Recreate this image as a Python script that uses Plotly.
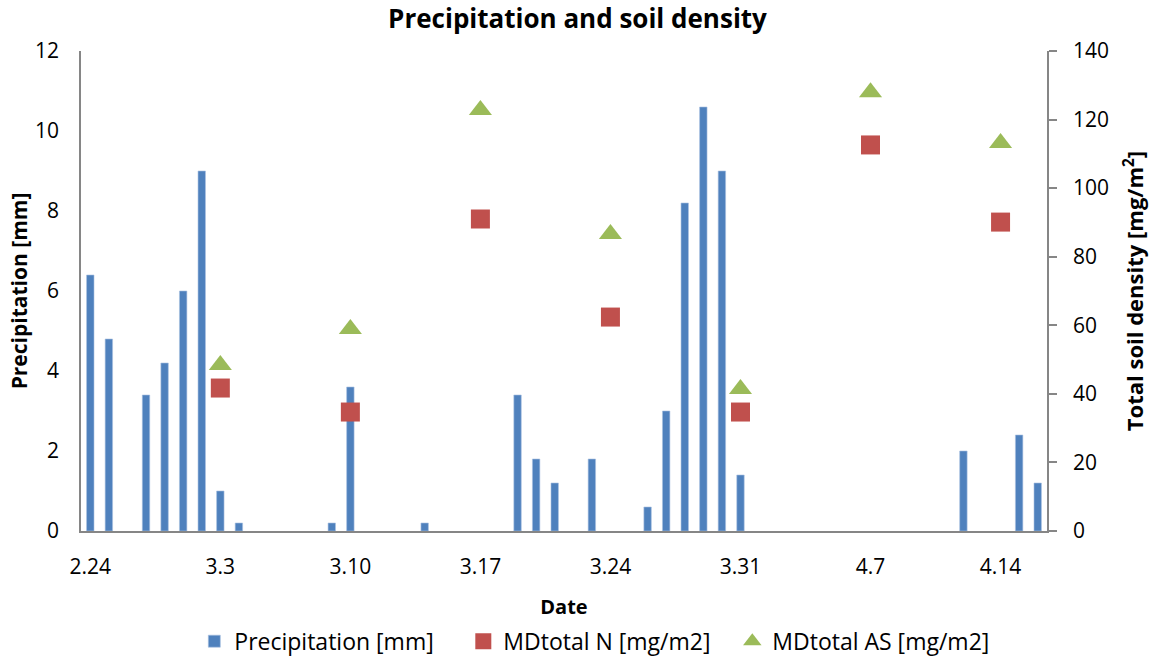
import pandas as pd
import plotly.graph_objects as go

# Daily precipitation (mm)
precip_dates = ["2015-02-24", "2015-02-25", "2015-02-27", "2015-02-28", "2015-03-01",
                "2015-03-02", "2015-03-03", "2015-03-04", "2015-03-09", "2015-03-10",
                "2015-03-14", "2015-03-19", "2015-03-20", "2015-03-21", "2015-03-23",
                "2015-03-26", "2015-03-27", "2015-03-28", "2015-03-29", "2015-03-30",
                "2015-03-31", "2015-04-12", "2015-04-15", "2015-04-16"]
precip_mm = [6.4, 4.8, 3.4, 4.2, 6.0, 9.0, 1.0, 0.2, 0.2, 3.6,
             0.2, 3.4, 1.8, 1.2, 1.8, 0.6, 3.0, 8.2, 10.6, 9.0,
             1.4, 2.0, 2.4, 1.2]

# Weekly soil deposition samples (mg/m2)
sample_dates = ["2015-03-03", "2015-03-10", "2015-03-17", "2015-03-24",
                "2015-03-31", "2015-04-07", "2015-04-14"]
md_total_n = [41.7, 34.7, 91.0, 62.4, 34.7, 112.6, 90.1]
md_total_as = [48.4, 58.9, 122.8, 86.6, 41.4, 128.0, 113.2]

tick_dates = pd.date_range("2015-02-24", "2015-04-14", freq="7D")
tick_labels = [f"{d.month}.{d.day}" for d in tick_dates]

FONT = "Open Sans"
AXIS_GREY = "#868686"
DAY_MS = 86400000

fig = go.Figure()
fig.add_trace(go.Bar(
    x=pd.to_datetime(precip_dates), y=precip_mm, name="Precipitation [mm]",
    width=0.4 * DAY_MS, marker=dict(color="#4F81BD", line=dict(width=0.6, color="#A9C1E0")),
))
fig.add_trace(go.Scatter(
    x=pd.to_datetime(sample_dates), y=md_total_n, name="MDtotal N [mg/m2]",
    mode="markers", yaxis="y2",
    marker=dict(symbol="square", size=19, color="#C0504D"),
))
fig.add_trace(go.Scatter(
    x=pd.to_datetime(sample_dates), y=md_total_as, name="MDtotal AS [mg/m2]",
    mode="markers", yaxis="y2",
    marker=dict(symbol="triangle-up", size=20, color="#9BBB59"),
))

fig.update_layout(
    width=1155, height=659, autosize=False,
    margin=dict(l=81, r=108, t=51, b=128, autoexpand=False),
    paper_bgcolor="white", plot_bgcolor="white",
    font=dict(family=FONT, size=21, color="black"),
    title=dict(text="<b>Precipitation and soil density</b>", x=0.5, xanchor="center",
               y=0.972, yanchor="middle", font=dict(family=FONT, size=26)),
    xaxis=dict(
        type="date",
        range=["2015-02-23 12:00", "2015-04-16 12:00"],
        tickmode="array", tickvals=tick_dates, ticktext=tick_labels,
        showgrid=False, zeroline=False,
        showline=True, linecolor=AXIS_GREY, linewidth=1.5,
        ticks="", ticklabelstandoff=16,
        title=dict(text="<b>Date</b>", font=dict(family=FONT, size=20), standoff=22),
    ),
    yaxis=dict(
        range=[0, 12], dtick=2, showgrid=False, zeroline=False,
        showline=True, linecolor=AXIS_GREY, linewidth=1.5,
        ticks="", ticklabelstandoff=16,
        title=dict(text="<b>Precipitation [mm]</b>", font=dict(family=FONT, size=21), standoff=2),
    ),
    yaxis2=dict(
        range=[0, 140], dtick=20, overlaying="y", side="right",
        showgrid=False, zeroline=False,
        showline=True, linecolor=AXIS_GREY, linewidth=1.5,
        ticks="outside", ticklen=8, tickwidth=1.5, tickcolor=AXIS_GREY,
        ticklabelstandoff=12,
        title=dict(text="<b>Total soil density [mg/m<sup>2</sup>]</b>",
                   font=dict(family=FONT, size=22), standoff=20),
    ),
    legend=dict(
        orientation="h", xref="paper", x=0.535, xanchor="center",
        yref="container", y=0.027, yanchor="middle",
        font=dict(family=FONT, size=23), entrywidth=224, entrywidthmode="pixels",
        itemwidth=30, bgcolor="rgba(0,0,0,0)",
    ),
    showlegend=True,
)

fig.write_html("out.html")
